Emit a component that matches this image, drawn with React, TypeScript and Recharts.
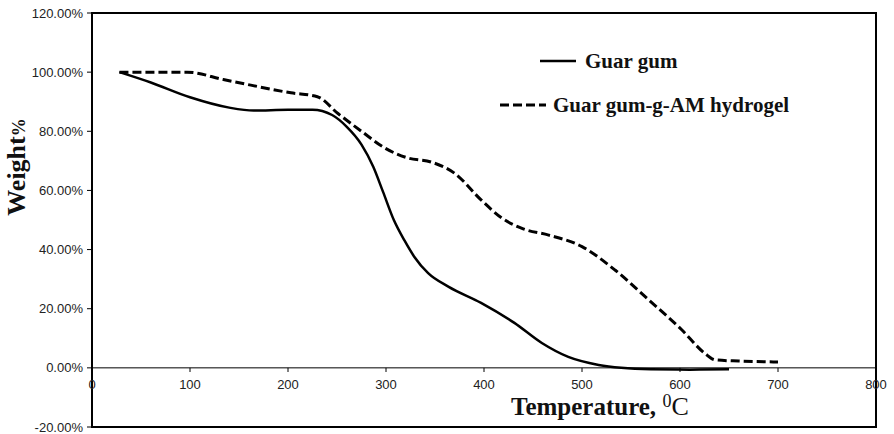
import React from "react";
import {
  LineChart,
  Line,
  XAxis,
  YAxis,
  ReferenceLine,
  ReferenceArea,
  ReferenceDot,
  Customized,
} from "recharts";

// Thermogravimetric curves: residual weight (%) against temperature (°C)
const seriesNames = ["Guar gum", "Guar gum-g-AM hydrogel"];

const guarTemp = [28, 60, 100, 140, 165, 200, 225, 245, 260, 275, 287, 297, 308, 319, 329, 343, 364, 397, 431, 459, 486, 517, 540, 570, 610, 650];
const guarWeight = [100, 96.5, 91.5, 88, 87, 87.3, 87.3, 85.5, 81.5, 75.5, 68, 59.5, 50, 43, 37.5, 32, 27.4, 22, 15.2, 8.4, 3.7, 1.0, 0, -0.5, -0.6, -0.5];

const gelTemp = [28, 60, 97, 134, 162, 203, 230, 251, 275, 298, 322, 346, 370, 397, 418, 440, 466, 500, 534, 568, 602, 625, 636, 660, 700];
const gelWeight = [100, 100, 100, 97.5, 95.6, 93, 91.7, 86, 80, 74.5, 71, 69.6, 65.8, 56.8, 50.7, 47, 44.9, 41, 33, 23, 12.8, 5, 2.7, 2.3, 2.0];

const xTicks = [0, 100, 200, 300, 400, 500, 600, 700, 800];
const yTicks = [-20, 0, 20, 40, 60, 80, 100, 120];

const guarData = guarTemp.map((t, i) => ({ t, w: guarWeight[i] }));
const gelData = gelTemp.map((t, i) => ({ t, w: gelWeight[i] }));

const serif = "'Liberation Serif', 'Times New Roman', serif";
const sans = "'Liberation Sans', Arial, sans-serif";

const Decorations = () => (
  <g>
    {/* y-axis title */}
    <text
      x={25}
      y={167}
      transform="rotate(-90, 25, 167)"
      textAnchor="middle"
      fontFamily={serif}
      fontWeight="bold"
      fontSize={26}
      fill="#111"
    >
      Weight<tspan fontSize={18}>%</tspan>
    </text>
    {/* x-axis title */}
    <text x={511} y={415} fontFamily={serif} fontSize={25} fontWeight="bold" fill="#111">
      Temperature,{" "}
      <tspan fontSize={18} dy={-8} fontWeight="normal">0</tspan>
      <tspan dy={8} fontWeight="normal" fontSize={26}>C</tspan>
    </text>
    {/* legend */}
    <line x1={540} y1={61} x2={576} y2={61} stroke="#000" strokeWidth={2.5} />
    <text x={585} y={68} fontFamily={serif} fontWeight="bold" fontSize={21} fill="#111">
      {seriesNames[0]}
    </text>
    <line x1={500} y1={105} x2={546} y2={105} stroke="#000" strokeWidth={3} strokeDasharray="9 4" />
    <text x={553} y={112} fontFamily={serif} fontWeight="bold" fontSize={21} fill="#111">
      {seriesNames[1]}
    </text>
  </g>
);

export default function App() {
  return (
    <div style={{ position: "absolute", left: 0, top: 0, background: "#fff" }}>
      <LineChart width={894} height={434} margin={{ top: 13, right: 18, bottom: 7, left: 0 }}>
        <XAxis type="number" dataKey="t" domain={[0, 800]} ticks={xTicks} hide allowDataOverflow />
        <YAxis
          type="number"
          domain={[-20, 120]}
          ticks={yTicks}
          width={92}
          interval={0}
          allowDataOverflow
          tickFormatter={(v: number) => `${v.toFixed(2)}%`}
          tick={{ fontSize: 13, fill: "#222", fontFamily: sans }}
          tickSize={5}
          tickMargin={4}
          axisLine={{ stroke: "#000", strokeWidth: 2 }}
          tickLine={{ stroke: "#000", strokeWidth: 1 }}
        />
        <ReferenceArea
          x1={0}
          x2={800}
          y1={-20}
          y2={120}
          fill="none"
          fillOpacity={0}
          stroke="#000"
          strokeWidth={2}
        />
        <ReferenceLine y={0} stroke="#000" strokeWidth={1} />
        {xTicks.slice(1, -1).map((t) => (
          <ReferenceLine
            key={`tk-${t}`}
            segment={[{ x: t, y: 0 }, { x: t, y: -1.4 }]}
            stroke="#000"
            strokeWidth={1}
          />
        ))}
        {xTicks.map((t) => (
          <ReferenceDot
            key={`tl-${t}`}
            x={t}
            y={0}
            r={1}
            fill="none"
            stroke="none"
            label={{
              value: String(t),
              position: "bottom",
              offset: 11,
              fontSize: 13,
              fill: "#222",
              fontFamily: sans,
            }}
          />
        ))}
        <Line
          data={guarData}
          dataKey="w"
          name={seriesNames[0]}
          type="monotone"
          stroke="#000"
          strokeWidth={2.5}
          dot={false}
          isAnimationActive={false}
        />
        <Line
          data={gelData}
          dataKey="w"
          name={seriesNames[1]}
          type="monotone"
          stroke="#000"
          strokeWidth={3}
          strokeDasharray="9 4"
          dot={false}
          isAnimationActive={false}
        />
        <Customized component={Decorations} />
      </LineChart>
    </div>
  );
}
